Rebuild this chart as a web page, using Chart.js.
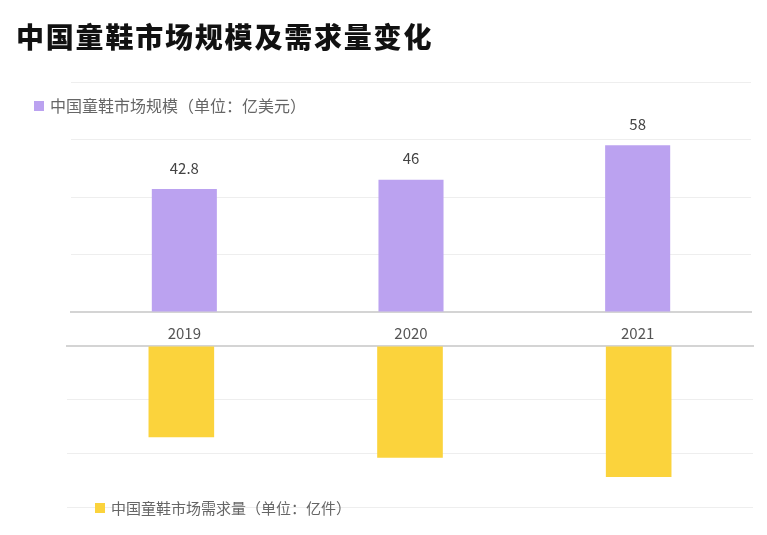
<!DOCTYPE html>
<html>
<head>
<meta charset="utf-8">
<script src="https://cdn.jsdelivr.net/npm/chart.js@4.4.0/dist/chart.umd.min.js"></script>
<style>
  body { margin: 0; background: #fff; font-family: "Noto Sans CJK SC", "Noto Sans", sans-serif; }
  #wrap { position: relative; width: 767px; height: 535px; overflow: hidden; }
  #title { position: absolute; left: 16px; top: 16px; font-size: 28px; font-weight: 900; color: #111; letter-spacing: 1.8px; }
  .legend { position: absolute; color: #666; white-space: nowrap; }
  .legend i { display: inline-block; width: 10px; height: 10px; margin-right: 6px; vertical-align: middle; position: relative; top: -2px; }
  #topBox { position: absolute; left: 0; top: 0; width: 767px; height: 361px; }
  #bottomBox { position: absolute; left: 0; top: 340px; width: 767px; height: 195px; }
</style>
</head>
<body>
<div id="wrap">
  <div id="topBox"><canvas id="marketChart"></canvas></div>
  <div id="bottomBox"><canvas id="demandChart"></canvas></div>
  <div id="title">中国童鞋市场规模及需求量变化</div>
  <div class="legend" id="legendTop" style="left:34px; top:93px; font-size:16px;"><i style="background:#BBA2F0"></i>中国童鞋市场规模（单位：亿美元）</div>
  <div class="legend" id="legendBottom" style="left:95px; top:497px; font-size:15px;"><i style="background:#FBD33C"></i>中国童鞋市场需求量（单位：亿件）</div>
</div>
<script>
// 数据
const years = ["2019", "2020", "2021"];
const marketSize = [42.8, 46, 58];      // 亿美元
const demand = [8.5, 10.4, 12.2];       // 亿件 (图中未标注数值，按柱高估算)

const purple = "#BBA2F0";
const yellow = "#FBD33C";

// 柱顶数值标签
const valueLabels = {
  id: "valueLabels",
  afterDatasetsDraw(chart) {
    const ctx = chart.ctx;
    const meta = chart.getDatasetMeta(0);
    ctx.save();
    ctx.font = "15px 'Noto Sans CJK SC', sans-serif";
    ctx.fillStyle = "#444";
    ctx.textAlign = "center";
    ctx.textBaseline = "middle";
    meta.data.forEach(function (bar, i) {
      ctx.fillText(String(chart.data.datasets[0].data[i]), bar.x, bar.y - 21);
    });
    ctx.restore();
  }
};

// 上方：市场规模
new Chart(document.getElementById("marketChart"), {
  type: "bar",
  data: {
    labels: years,
    datasets: [{
      data: marketSize,
      backgroundColor: purple,
      categoryPercentage: 1,
      barPercentage: 0.287,
    }],
  },
  options: {
    responsive: true,
    maintainAspectRatio: false,
    animation: false,
    layout: { padding: { left: 71, right: 16, top: 82, bottom: 7 } },
    plugins: { legend: { display: false }, tooltip: { enabled: false } },
    scales: {
      x: {
        grid: { display: false, drawTicks: false },
        border: { display: true, color: "#d4d4d4", width: 2 },
        ticks: { color: "#555", font: { size: 15, family: "'Noto Sans CJK SC', sans-serif" }, padding: 12 },
      },
      y: {
        min: 0, max: 80,
        ticks: { display: false, stepSize: 20 },
        grid: { color: "#eeeeee", drawTicks: false },
        border: { display: false },
      },
    },
  },
  plugins: [valueLabels],
});

// 下方：需求量（向下的柱子）
new Chart(document.getElementById("demandChart"), {
  type: "bar",
  data: {
    labels: years,
    datasets: [{
      data: demand,
      backgroundColor: yellow,
      categoryPercentage: 1,
      barPercentage: 0.287,
    }],
  },
  options: {
    responsive: true,
    maintainAspectRatio: false,
    animation: false,
    layout: { padding: { left: 67, right: 14, top: 6, bottom: 28 } },
    plugins: { legend: { display: false }, tooltip: { enabled: false } },
    scales: {
      x: {
        position: "top",
        grid: { display: false, drawTicks: false },
        border: { display: true, color: "#d4d4d4", width: 2 },
        ticks: { display: false },
      },
      y: {
        reverse: true,
        min: 0, max: 15,
        ticks: { display: false, stepSize: 5 },
        grid: { color: "#eeeeee", drawTicks: false },
        border: { display: false },
      },
    },
  },
});
</script>
</body>
</html>
